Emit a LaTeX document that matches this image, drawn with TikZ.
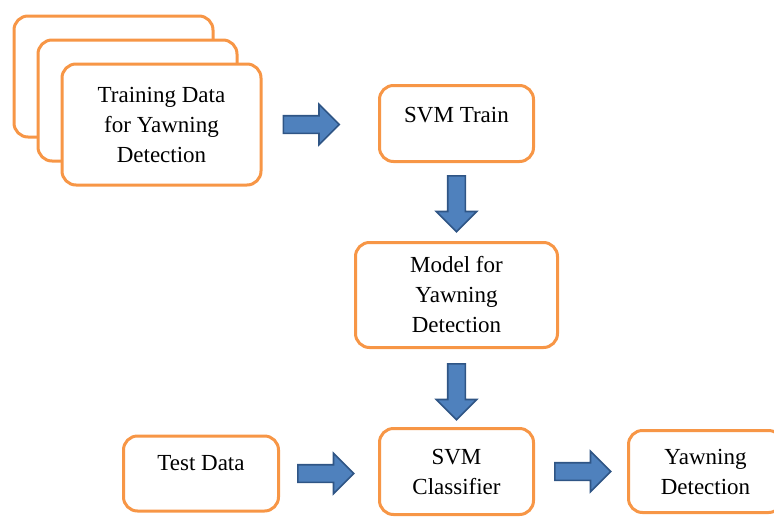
\documentclass[tikz,border=0pt]{standalone}
\usepackage{fontspec}
\setmainfont{Liberation Serif}
\usepackage{tikz}
\usetikzlibrary{positioning,shapes.arrows}
\definecolor{boxorange}{HTML}{F79646}
\definecolor{arrowblue}{HTML}{4F81BD}
\definecolor{arrowedge}{HTML}{2F5585}

\begin{document}
\begin{tikzpicture}[x=1pt, y=-1pt, every node/.style={align=center, font=\fontsize{23}{30}\selectfont},
  stage/.style={draw=boxorange, line width=3pt, rounded corners=14pt, fill=white, inner sep=0pt},
  fatarrow/.style={single arrow, draw=arrowedge, fill=arrowblue, line width=1.6pt, inner sep=8pt, minimum width=39pt, minimum height=56pt, single arrow head extend=11.5pt}]
  \useasboundingbox (0,0) rectangle (774,517);
  \clip (0,0) rectangle (774,517);
  % stacked training sets
  \node[stage, minimum width=199pt, minimum height=121pt] (backset) at (113.5,76.5) {};
  \node[stage, minimum width=199pt, minimum height=121pt] (midset) at (137.5,100.5) {};
  \node[stage, minimum width=199pt, minimum height=121pt] (train) at (161.5,124.5) {Training Data\\for Yawning\\Detection};
  \node[stage, minimum width=154pt, minimum height=76pt, text depth=17pt] (svmtrain) at (456.5,123.5) {SVM Train};
  \node[stage, below=78pt of svmtrain, minimum width=202pt, minimum height=105pt] (model) {Model for\\Yawning\\Detection};
  \node[stage, below=78pt of model, minimum width=154pt, minimum height=86pt] (classifier) {SVM\\Classifier};
  \node[stage, left=98pt of classifier, yshift=-2pt, minimum width=155pt, minimum height=75pt, text depth=22pt] (test) {Test Data};
  \node[stage, right=92pt of classifier, minimum width=154pt, minimum height=82pt] (yawn) {Yawning\\Detection};
  % block arrows
  \node[fatarrow, right=20pt of train] (toTrain) {};
  \node[fatarrow, shape border rotate=270, below=12pt of svmtrain] (toModel) {};
  \node[fatarrow, shape border rotate=270, below=14pt of model] (toClassifier) {};
  \node[fatarrow, right=17pt of test] (testIn) {};
  \node[fatarrow, right=19pt of classifier] (toYawn) {};
\end{tikzpicture}
\end{document}
